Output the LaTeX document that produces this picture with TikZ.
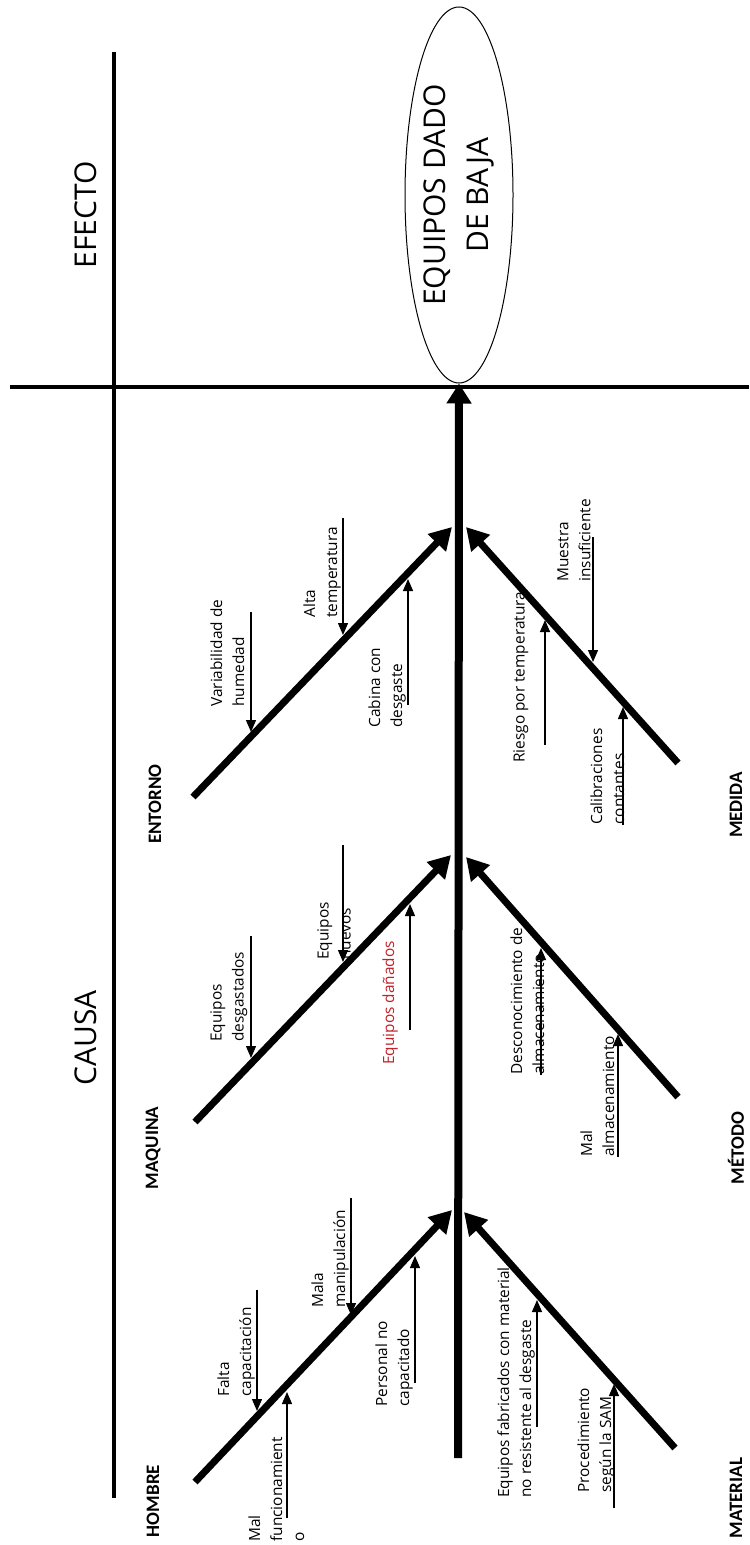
\documentclass[tikz,border=0pt]{standalone}
\usepackage{fontspec}
\setmainfont{Open Sans}
\newfontfamily\labfont{Carlito}
\usetikzlibrary{arrows.meta,shapes.geometric}
\definecolor{redtxt}{RGB}{196,32,40}
\tikzset{
  frame/.style={line width=1.6pt},
  spine/.style={line width=4pt, -{Triangle[length=10pt,width=12pt]}},
  bone/.style={line width=3.5pt, -{Triangle[length=11pt,width=12pt]}},
  cause/.style={line width=0.65pt, -{Triangle[length=6pt,width=5pt]}},
  ctext/.style={rotate=90, anchor=north west, inner sep=0pt, align=left, font=\fontsize{7.7}{11}\selectfont},
  cat/.style={rotate=90, inner sep=0pt, font=\labfont\bfseries\fontsize{9.5}{11}\selectfont},
  head/.style={rotate=90, inner sep=0pt, font=\fontsize{15}{18}\selectfont},
  effect/.style={draw, ellipse, rotate=90, minimum width=188pt, minimum height=54pt, inner sep=0pt, line width=0.5pt, align=center, font=\fontsize{15}{21.5}\selectfont},
}
\begin{document}
\begin{tikzpicture}[x=0.5pt,y=-0.5pt]
\useasboundingbox (0,0) rectangle (749,1545);
\fill[white] (0,0) rectangle (749,1545);

% frame lines
\coordinate (h1) at (10,387);
\coordinate (h2) at (749,387);
\coordinate (v1) at (114,52);
\coordinate (v2) at (114,1498);
\draw[frame] (h1) -- (h2);
\draw[frame] (v1) -- (v2);

% headers
\node[head] (efecto) at (86,215) {EFECTO};
\node[head] (causa) at (86,1038) {CAUSA};

% effect
\node[effect] (eff) at (459,195) {EQUIPOS DADO\\DE BAJA};

% spine
\coordinate (sb) at (458,1458);
\draw[spine] (sb) -- (eff.west);

% branches
\coordinate (hb0) at (195,1482); \coordinate (hb1) at (452,1210);
\coordinate (mt0) at (675,1448); \coordinate (mt1) at (464,1212);
\coordinate (mq0) at (195,1122); \coordinate (mq1) at (451,855);
\coordinate (me0) at (678,1097); \coordinate (me1) at (466,857);
\coordinate (en0) at (193,797);  \coordinate (en1) at (452,527);
\coordinate (md0) at (678,763);  \coordinate (md1) at (466,527);
\draw[bone] (hb0) -- (hb1);
\draw[bone] (mt0) -- (mt1);
\draw[bone] (mq0) -- (mq1);
\draw[bone] (me0) -- (me1);
\draw[bone] (en0) -- (en1);
\draw[bone] (md0) -- (md1);

% category labels
\node[cat] (lhombre) at (153,1501) {HOMBRE};
\node[cat] (lmaquina) at (153,1148) {MAQUINA};
\node[cat] (lentorno) at (155,804) {ENTORNO};
\node[cat] (lmedida) at (736,805) {MEDIDA};
\node[cat] (lmetodo) at (736,1148) {MÉTODO};
\node[cat] (lmaterial) at (736,1498) {MATERIAL};

% cause texts
\node[ctext] (t1) at (217,1397) {Falta\\capacitación};
\node[ctext] (t2) at (248,1542) {Mal\\funcionamient\\o};
\node[ctext] (t3) at (311,1308) {Mala\\manipulación};
\node[ctext] (t4) at (375,1407) {Personal no\\capacitado};
\node[ctext] (t5) at (497,1498) {Equipos fabricados con material\\no resistente al desgaste};
\node[ctext] (t6) at (577,1493) {Procedimiento\\según la SAM};
\node[ctext] (t7) at (210,1042) {Equipos\\desgastados};
\node[ctext] (t8) at (317,960) {Equipos\\nuevos};
\node[ctext, text=redtxt] (t9) at (382,1065) {Equipos dañados};
\node[ctext] (t10) at (510,1075) {Desconocimiento de\\almacenamiento};
\node[ctext] (t11) at (580,1157) {Mal\\almacenamiento};
\node[ctext] (t12) at (210,707) {Variabilidad de\\humedad};
\node[ctext] (t13) at (303,618) {Alta\\temperatura};
\node[ctext] (t14) at (368,728) {Cabina con\\desgaste};
\node[ctext] (t15) at (513,763) {Riesgo por temperatura};
\node[ctext] (t16) at (557,582) {Muestra\\insuficiente};
\node[ctext] (t17) at (590,825) {Calibraciones\\contantes};

% cause arrows
\coordinate (a1) at (257,1290);  \coordinate (b1) at (257,1411);
\coordinate (a2) at (287,1518);  \coordinate (b2) at (287,1392);
\coordinate (a3) at (351,1198);  \coordinate (b3) at (351,1315);
\coordinate (a4) at (415,1383);  \coordinate (b4) at (415,1256);
\coordinate (a5) at (537,1427);  \coordinate (b5) at (537,1300);
\coordinate (a6) at (614,1508);  \coordinate (b6) at (614,1384);
\coordinate (a7) at (251,936);   \coordinate (b7) at (251,1058);
\coordinate (a8) at (343,845);   \coordinate (b8) at (343,962);
\coordinate (a9) at (410,1030);  \coordinate (b9) at (410,904);
\coordinate (a10) at (541,1075); \coordinate (b10) at (541,948);
\coordinate (a11) at (618,1157); \coordinate (b11) at (618,1034);
\coordinate (a12) at (251,612);  \coordinate (b12) at (251,732);
\coordinate (a13) at (343,518);  \coordinate (b13) at (343,635);
\coordinate (a14) at (408,705);  \coordinate (b14) at (408,579);
\coordinate (a15) at (545,745);  \coordinate (b15) at (545,620);
\coordinate (a16) at (593,537);  \coordinate (b16) at (593,662);
\coordinate (a17) at (623,825);  \coordinate (b17) at (623,707);
\foreach \i in {1,...,17} {\draw[cause] (a\i) -- (b\i);}
\end{tikzpicture}
\end{document}
